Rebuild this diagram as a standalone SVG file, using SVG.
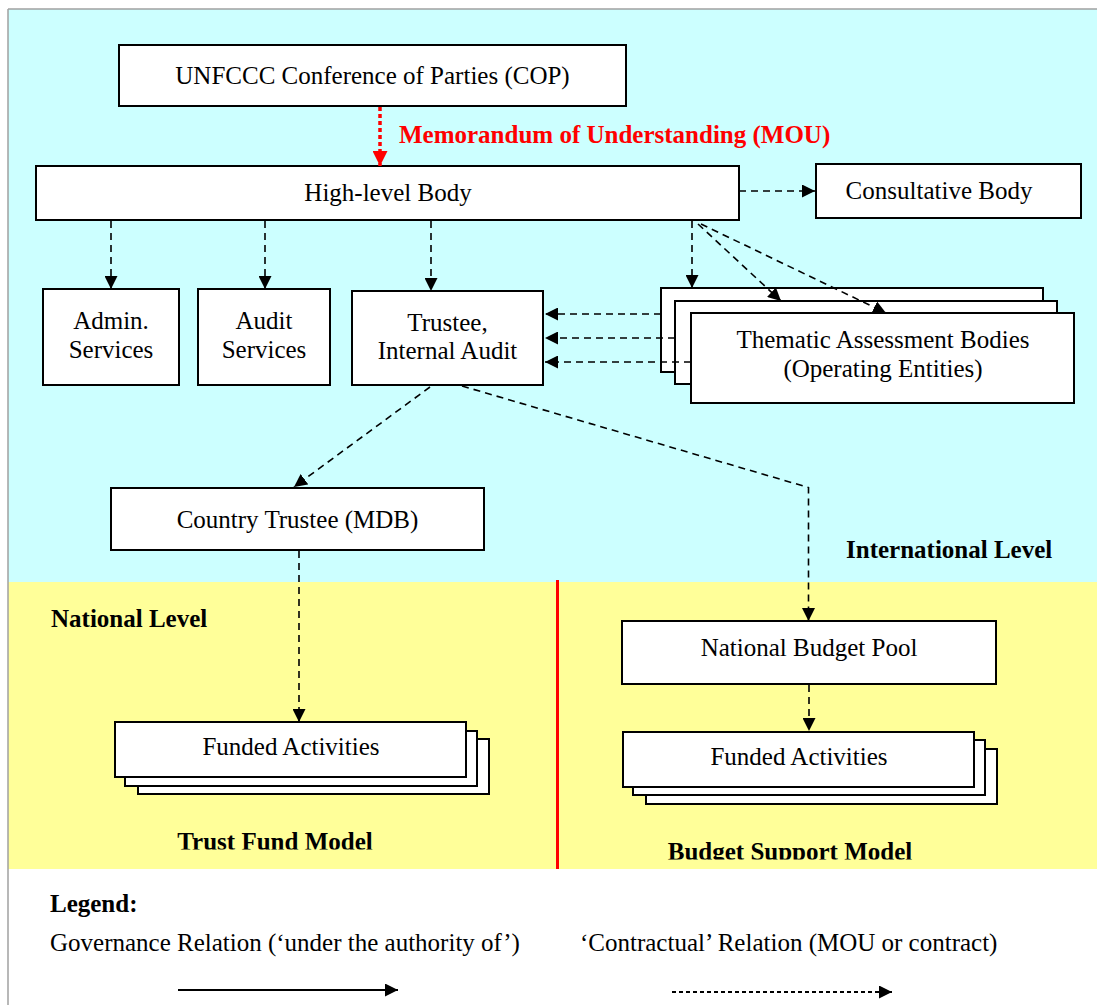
<svg xmlns="http://www.w3.org/2000/svg" width="1097" height="1005" viewBox="0 0 1097 1005">
<style>
text{font-family:"Liberation Serif","Times New Roman",serif;font-size:25px;fill:#000}
.c{text-anchor:middle}
.b{font-weight:bold}
.box{fill:#fff;stroke:#000;stroke-width:2}
.dash{fill:none;stroke:#000;stroke-width:1.6;stroke-dasharray:7 5}
</style>
<defs>
<marker id="ah" viewBox="0 0 10 10" refX="10" refY="5" markerUnits="userSpaceOnUse" markerWidth="13" markerHeight="13" orient="auto">
<path d="M0,0 L10,5 L0,10 z" fill="#000"/>
</marker>
<marker id="ahr" viewBox="0 0 10 10" refX="10" refY="5" markerUnits="userSpaceOnUse" markerWidth="16" markerHeight="15" orient="auto">
<path d="M0,0 L10,5 L0,10 z" fill="#f00"/>
</marker>
<clipPath id="clipT"><rect x="0" y="800" width="1097" height="49.5"/></clipPath>
<clipPath id="clipB"><rect x="0" y="800" width="1097" height="59.5"/></clipPath>
</defs>

<g id="background">
<rect x="0" y="0" width="1097" height="1005" fill="#fff"/>
<rect x="8" y="9" width="1089" height="573" fill="#ccffff"/>
<rect x="8" y="582" width="1089" height="287" fill="#ffff99"/>
<line x1="8" y1="9" x2="1097" y2="9" stroke="#a0a0a0" stroke-width="1.5"/>
<line x1="8" y1="9" x2="8" y2="1005" stroke="#a0a0a0" stroke-width="1.5"/>
<line x1="557.5" y1="580" x2="557.5" y2="869" stroke="#f00" stroke-width="3"/>
</g>

<g id="labels">
<text class="b" x="399" y="143" fill="#f00" style="fill:#f00">Memorandum of Understanding (MOU)</text>
<text class="b" x="846" y="558">International Level</text>
<text class="b" x="51" y="627">National Level</text>
<text class="b c" x="275" y="850" clip-path="url(#clipT)">Trust Fund Model</text>
<text class="b c" x="790" y="860" clip-path="url(#clipB)">Budget Support Model</text>
</g>

<g id="node-cop">
<rect class="box" x="119" y="45" width="507" height="61"/>
<text class="c" x="372.5" y="84">UNFCCC Conference of Parties (COP)</text>
</g>
<g id="node-highlevel">
<rect class="box" x="36" y="166" width="703" height="54"/>
<text class="c" x="388" y="201">High-level Body</text>
</g>
<g id="node-consultative">
<rect class="box" x="816" y="164" width="265" height="54"/>
<text class="c" x="939" y="199">Consultative Body</text>
</g>
<g id="node-admin">
<rect class="box" x="43" y="289" width="136" height="96"/>
<text class="c" x="111" y="329">Admin.</text>
<text class="c" x="111" y="358">Services</text>
</g>
<g id="node-audit">
<rect class="box" x="198" y="289" width="132" height="96"/>
<text class="c" x="264" y="329">Audit</text>
<text class="c" x="264" y="358">Services</text>
</g>
<g id="node-trustee">
<rect class="box" x="352" y="291" width="191" height="94"/>
<text class="c" x="447.5" y="331">Trustee,</text>
<text class="c" x="447.5" y="359">Internal Audit</text>
</g>
<g id="node-thematic">
<rect class="box" x="661" y="288" width="382" height="84"/>
<rect class="box" x="675" y="301" width="382" height="83"/>
<rect class="box" x="691" y="313" width="383" height="90"/>
<text class="c" x="883" y="348">Thematic Assessment Bodies</text>
<text class="c" x="883" y="377">(Operating Entities)</text>
</g>
<g id="node-country-trustee">
<rect class="box" x="111" y="488" width="373" height="62"/>
<text class="c" x="297.5" y="528">Country Trustee (MDB)</text>
</g>
<g id="node-national-budget">
<rect class="box" x="622" y="621" width="374" height="63"/>
<text class="c" x="809" y="656">National Budget Pool</text>
</g>
<g id="node-funded-left">
<rect class="box" x="138" y="739" width="351" height="55"/>
<rect class="box" x="125" y="731" width="352" height="55"/>
<rect class="box" x="115" y="722" width="351" height="55"/>
<text class="c" x="291" y="755">Funded Activities</text>
</g>
<g id="node-funded-right">
<rect class="box" x="646" y="749" width="351" height="55"/>
<rect class="box" x="633" y="740" width="352" height="55"/>
<rect class="box" x="623" y="732" width="351" height="55"/>
<text class="c" x="799" y="765">Funded Activities</text>
</g>

<g id="connectors">
<line x1="380" y1="107" x2="380" y2="166" stroke="#f00" stroke-width="3.5" stroke-dasharray="4 3" marker-end="url(#ahr)"/>
<line class="dash" x1="739" y1="191" x2="815" y2="191" marker-end="url(#ah)"/>
<line class="dash" x1="111" y1="221" x2="111" y2="289" marker-end="url(#ah)"/>
<line class="dash" x1="265" y1="221" x2="265" y2="289" marker-end="url(#ah)"/>
<line class="dash" x1="431" y1="221" x2="431" y2="291" marker-end="url(#ah)"/>
<line class="dash" x1="692" y1="221" x2="692" y2="288" marker-end="url(#ah)"/>
<line class="dash" x1="698" y1="224" x2="781" y2="301" marker-end="url(#ah)"/>
<line class="dash" x1="701" y1="224" x2="886" y2="313" marker-end="url(#ah)"/>
<line class="dash" x1="661" y1="314" x2="545" y2="314" marker-end="url(#ah)"/>
<line class="dash" x1="675" y1="338" x2="545" y2="338" marker-end="url(#ah)"/>
<line class="dash" x1="691" y1="362" x2="545" y2="362" marker-end="url(#ah)"/>
<line class="dash" x1="430" y1="387" x2="294" y2="487" marker-end="url(#ah)"/>
<polyline class="dash" points="462,386 808.5,487.5 808.5,621" marker-end="url(#ah)"/>
<line class="dash" x1="299" y1="551" x2="299" y2="722" marker-end="url(#ah)"/>
<line class="dash" x1="809" y1="685" x2="809" y2="731" marker-end="url(#ah)"/>
</g>

<g id="legend">
<text class="b" x="50" y="912">Legend:</text>
<text x="50" y="951">Governance Relation (‘under the authority of’)</text>
<text x="580" y="951">‘Contractual’ Relation (MOU or contract)</text>
<line x1="178" y1="990" x2="398" y2="990" stroke="#000" stroke-width="2" marker-end="url(#ah)"/>
<line x1="672" y1="992" x2="892" y2="992" stroke="#000" stroke-width="2" stroke-dasharray="4 3" marker-end="url(#ah)"/>
</g>
</svg>
